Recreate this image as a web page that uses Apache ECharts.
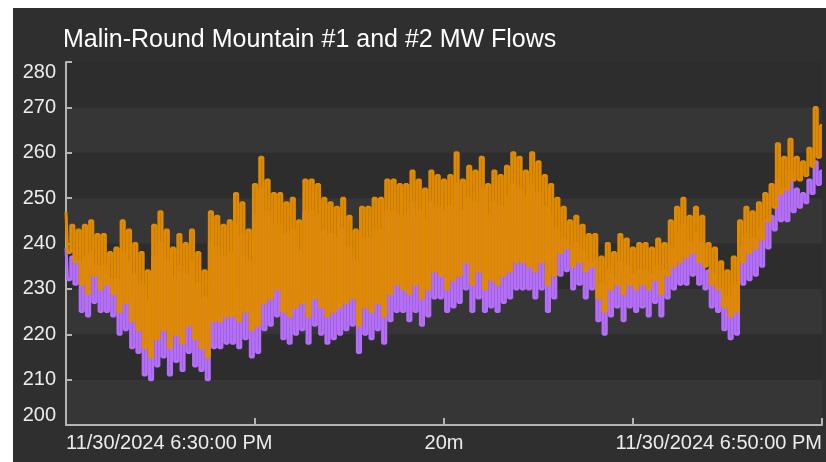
<!DOCTYPE html>
<html>
<head>
<meta charset="utf-8">
<script src="https://cdn.jsdelivr.net/npm/echarts@6/dist/echarts.min.js"></script>
<style>
  html, body { margin: 0; padding: 0; background: #ffffff; }
  #page { position: relative; width: 826px; height: 462px; overflow: hidden; }
  #chart { position: absolute; left: 13px; top: 8px; width: 813px; height: 454px; background: #2f2f2f; }
</style>
</head>
<body>
<div id="page"><div id="chart"></div></div>
<script>
// samples every 5 s from 6:30:00 PM to 6:50:00 PM
const stepSeconds = 5
const xLabels = { 0: '11/30/2024 6:30:00 PM', 600: '20m', 1200: '11/30/2024 6:50:00 PM' }

// Malin-Round Mountain #1 (orange), MW
const flowOne = [
  247, 238, 244, 236, 243, 231, 244, 229, 245, 233, 242, 230, 242, 231, 238, 229, 239, 225, 245, 227,
  243, 223, 240, 221, 238, 217, 234, 215, 244, 219, 247, 221, 243, 217, 239, 220, 242, 218, 240, 222,
  243, 219, 238, 217, 234, 215, 247, 223, 246, 223, 244, 224, 245, 224, 251, 223, 249, 225, 243, 221,
  253, 222, 259, 227, 254, 228, 251, 230, 251, 225, 249, 224, 250, 226, 245, 227, 254, 224, 254, 228,
  253, 226, 250, 224, 249, 225, 248, 226, 250, 227, 246, 228, 243, 222, 248, 226, 248, 225, 250, 227,
  250, 224, 254, 229, 254, 231, 253, 230, 253, 229, 256, 231, 254, 228, 252, 230, 256, 234, 255, 233,
  254, 230, 255, 232, 260, 233, 254, 236, 257, 231, 256, 234, 259, 230, 253, 232, 256, 231, 255, 233,
  257, 234, 260, 236, 259, 236, 256, 235, 260, 234, 258, 236, 255, 231, 253, 233, 250, 238, 248, 239,
  245, 235, 246, 236, 244, 234, 242, 235, 242, 228, 237, 225, 240, 230, 238, 231, 242, 229, 241, 231,
  239, 230, 240, 231, 240, 230, 239, 232, 241, 229, 240, 233, 245, 235, 248, 236, 250, 237, 246, 238,
  248, 236, 246, 235, 240, 231, 239, 230, 236, 226, 234, 224, 237, 225, 245, 236, 248, 238, 247, 239,
  249, 241, 251, 245, 253, 248, 262, 251, 259, 252, 263, 254, 259, 254, 258, 255, 261, 257, 270, 259,
  266
]

// Malin-Round Mountain #2 (purple), MW
const flowTwo = [
  239, 232, 237, 231, 236, 225, 237, 224, 238, 227, 235, 225, 235, 225, 232, 224, 232, 220, 238, 221,
  236, 217, 233, 216, 231, 211, 227, 210, 237, 213, 240, 215, 236, 211, 232, 214, 235, 212, 233, 216,
  236, 213, 231, 212, 228, 210, 240, 217, 239, 217, 237, 218, 238, 218, 244, 217, 242, 219, 236, 215,
  246, 216, 252, 221, 247, 222, 244, 224, 244, 219, 242, 218, 243, 220, 238, 221, 247, 218, 247, 222,
  246, 220, 243, 218, 242, 219, 241, 220, 243, 221, 239, 222, 236, 216, 241, 220, 241, 219, 243, 221,
  243, 218, 247, 223, 247, 225, 246, 225, 246, 223, 249, 225, 247, 222, 245, 224, 249, 228, 248, 228,
  247, 225, 248, 226, 253, 227, 247, 230, 250, 225, 249, 228, 252, 225, 246, 226, 249, 225, 248, 227,
  250, 228, 253, 230, 252, 230, 250, 230, 253, 228, 251, 230, 248, 225, 246, 228, 243, 233, 241, 234,
  239, 230, 240, 231, 238, 228, 236, 230, 236, 223, 231, 220, 234, 224, 232, 226, 236, 223, 235, 226,
  233, 225, 234, 226, 234, 224, 233, 227, 235, 224, 234, 228, 239, 230, 242, 231, 244, 231, 240, 233,
  242, 231, 240, 230, 234, 226, 233, 225, 230, 221, 228, 219, 231, 220, 239, 231, 242, 232, 241, 233,
  243, 235, 245, 239, 246, 243, 254, 245, 252, 245, 256, 247, 252, 248, 251, 249, 254, 251, 258, 253,
  256
]

const chart = echarts.init(document.getElementById('chart'))
const toPairs = arr => arr.map((v, i) => [i * stepSeconds, v])
const axisColor = '#b4b4b4'
const labelColor = '#ececec'

const option = {
  animation: false,
  backgroundColor: '#2f2f2f',
  title: {
    text: 'Malin-Round Mountain #1 and #2 MW Flows',
    left: 50,
    top: 20,
    padding: 0,
    textStyle: {
      color: '#ffffff',
      fontFamily: 'Liberation Sans, Arial, sans-serif',
      fontSize: 25,
      fontWeight: 'normal'
    }
  },
  grid: { left: 53, right: 4, top: 54, bottom: 37 },
  xAxis: {
    type: 'value',
    min: 0,
    max: 1200,
    interval: 300,
    splitLine: { show: false },
    axisLine: { lineStyle: { color: axisColor, width: 2 } },
    axisTick: { inside: true, length: 7, lineStyle: { color: axisColor, width: 2 } },
    axisLabel: {
      color: labelColor,
      fontFamily: 'Liberation Sans, Arial, sans-serif',
      fontSize: 20,
      margin: 8,
      showMinLabel: true,
      showMaxLabel: true,
      alignMinLabel: 'left',
      alignMaxLabel: 'right',
      formatter: v => xLabels[v] || ''
    }
  },
  yAxis: {
    type: 'value',
    min: 200,
    max: 280,
    interval: 10,
    splitLine: { show: false },
    splitArea: { show: true, areaStyle: { color: ['#363636', '#2d2d2d'] } },
    axisLine: { show: true, lineStyle: { color: axisColor, width: 2 } },
    axisTick: { show: true, inside: true, length: 6, lineStyle: { color: axisColor, width: 2 } },
    axisLabel: {
      color: labelColor,
      fontFamily: 'Liberation Sans, Arial, sans-serif',
      fontSize: 20,
      margin: 10,
      verticalAlignMinLabel: 'bottom',
      verticalAlignMaxLabel: 'top'
    }
  },
  series: [
    {
      name: 'Malin-Round Mountain #2',
      type: 'line',
      step: 'middle',
      symbol: 'none',
      data: toPairs(flowTwo),
      lineStyle: { color: '#b46ef8', width: 3 }
    },
    {
      name: 'Malin-Round Mountain #1',
      type: 'line',
      step: 'middle',
      symbol: 'none',
      data: toPairs(flowOne),
      lineStyle: { color: '#e08a00', width: 3 }
    }
  ]
}
option && chart.setOption(option)
</script>
</body>
</html>
